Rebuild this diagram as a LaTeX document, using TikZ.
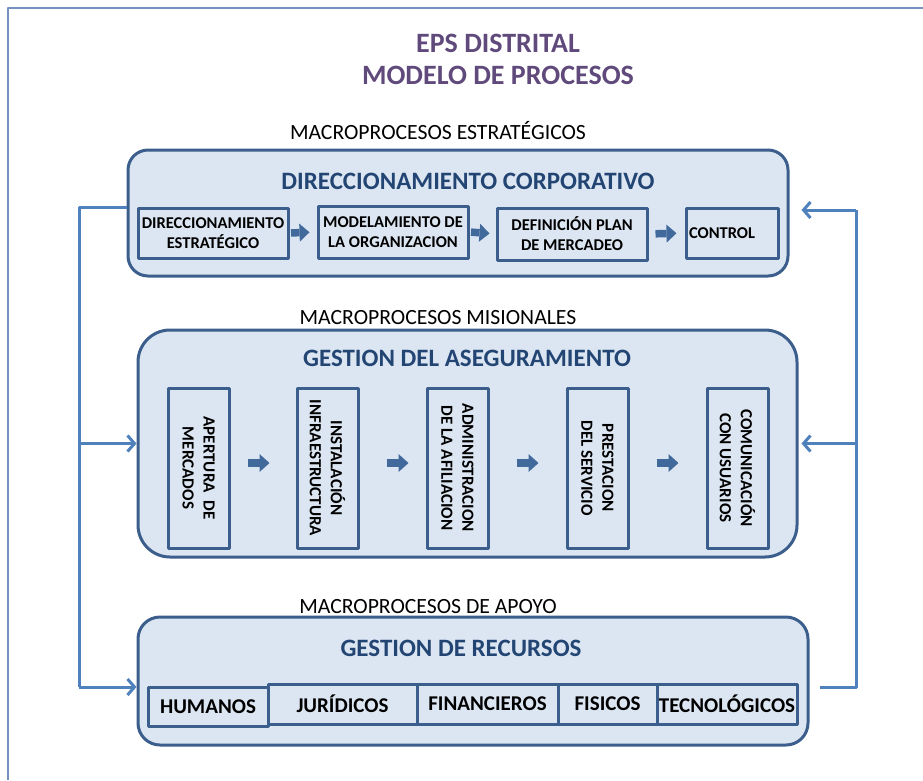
\documentclass[tikz,border=0pt]{standalone}
\usepackage{fontspec}
\setmainfont{Carlito}
\usepackage{tikz}
\usetikzlibrary{arrows.meta}
\usetikzlibrary{calc}
\definecolor{borde}{HTML}{3B5E8C}
\definecolor{relleno}{HTML}{DCE6F2}
\definecolor{azultit}{HTML}{234573}
\definecolor{morado}{HTML}{604A7B}
\definecolor{azul}{HTML}{4F81BD}
\definecolor{marco}{HTML}{7592BE}
\definecolor{azulflecha}{HTML}{41699C}

\begin{document}
\begin{tikzpicture}[line join=round,x=1pt,y=-1pt,
  bloque/.style={draw=borde,fill=relleno,line width=3pt},
  caja/.style={draw=borde,fill=relleno,line width=3pt,inner sep=0pt,align=center,font=\bfseries\fontsize{16.5}{20}\selectfont},
  vert/.style={caja,rotate=-90,minimum width=160pt,minimum height=61pt,font=\bfseries\fontsize{17}{21}\selectfont},
  recurso/.style={caja,minimum height=40pt,font=\bfseries\fontsize{21}{24}\selectfont},
  flecha/.style={draw=azulflecha,line width=7.5pt,-{Triangle[length=10pt,width=18pt,line width=0pt]}},
  enlace/.style={draw=azul,line width=3pt},
  punta/.style={enlace,-{Straight Barb[length=7pt,width=16pt]}},
  seccion/.style={font=\fontsize{21.7}{24}\selectfont},
  cabecera/.style={text=azultit,font=\bfseries\fontsize{25}{28}\selectfont}]
\useasboundingbox (0,0) rectangle (923,780);
\draw[marco,line width=2pt] (8,780) -- (8,8) -- (923,8);

\node[text=morado,align=center,font=\bfseries\fontsize{28}{32}\selectfont] (tit) at (498,59) {EPS DISTRITAL\\MODELO DE PROCESOS};

% estrategicos
\node[seccion] (sdc) at (438,131) {MACROPROCESOS ESTRATÉGICOS};
\node[bloque,rounded corners=20pt,minimum width=660pt,minimum height=126pt] (dc) at (458,213) {};
\node[cabecera] (tdc) at (468,181) {DIRECCIONAMIENTO CORPORATIVO};
\node[caja,minimum width=150pt,minimum height=50pt] (d1) at (213,233) {DIRECCIONAMIENTO\\ESTRATÉGICO};
\node[caja,minimum width=150pt,minimum height=52pt] (d2) at (393,232) {MODELAMIENTO DE\\LA ORGANIZACION};
\node[caja,minimum width=150pt,minimum height=52pt] (d3) at (572,234) {DEFINICIÓN PLAN\\DE MERCADEO};
\node[caja,minimum width=92pt,minimum height=50pt,text width=86pt,inner xsep=3pt,align=left] (d4) at (732,233) {\raisebox{-3pt}{CONTROL}};
\draw[flecha,shorten <=1.5pt,shorten >=7pt] (d1.east) -- (d2.west);
\draw[flecha,shorten <=1.5pt,shorten >=6pt] (d2.east) -- (d3.west);
\draw[flecha,shorten <=7pt,shorten >=8pt] (d3.east) -- (d4.west);

% misionales
\node[seccion] (sga) at (438,318) {MACROPROCESOS MISIONALES};
\node[bloque,rounded corners=32pt,minimum width=659pt,minimum height=227pt] (ga) at (467.5,443.5) {};
\node[cabecera] (tga) at (467,358) {GESTION DEL ASEGURAMIENTO};
\node[vert] (m1) at (198.5,468) {APERTURA~~DE\\MERCADOS};
\node[vert] (m2) at (327.5,468) {INSTALACIÓN\\INFRAESTRUCTURA};
\node[vert] (m3) at (457.5,468) {ADMINISTRACION\\DE LA AFILIACION};
\node[vert] (m4) at (597.5,468) {PRESTACION\\DEL SERVICIO};
\node[vert] (m5) at (737.5,468) {COMUNICACIÓN\\CON USUARIOS};
\draw[flecha,shorten <=17pt,shorten >=26pt] ([yshift=5pt]m1.north) -- ([yshift=5pt]m2.south);
\draw[flecha,shorten <=27pt,shorten >=17pt] ([yshift=5pt]m2.north) -- ([yshift=5pt]m3.south);
\draw[flecha,shorten <=27pt,shorten >=27pt] ([yshift=5pt]m3.north) -- ([yshift=5pt]m4.south);
\draw[flecha,shorten <=27pt,shorten >=27pt] ([yshift=5pt]m4.north) -- ([yshift=5pt]m5.south);

% apoyo
\node[seccion] (sgr) at (428,607) {MACROPROCESOS DE APOYO};
\node[bloque,rounded corners=22pt,minimum width=670pt,minimum height=128pt] (gr) at (473,681) {};
\node[cabecera] (tgr) at (461,648) {GESTION DE RECURSOS};
\node[recurso,minimum width=120pt,minimum height=39pt] (r1) at (208,706.5) {HUMANOS};
\node[recurso,minimum width=149pt] (r2) at (342.5,704) {JURÍDICOS};
\node[recurso,minimum width=141pt] (r3) at (487.5,704) {FINANCIEROS};
\node[recurso,minimum width=99pt] (r4) at (607.5,704) {FISICOS};
\node[recurso,minimum width=140pt] (r5) at (727,704) {TECNOLÓGICOS};

% realimentacion
\coordinate (ai) at (79,207);
\coordinate (bi) at (79,687);
\coordinate (ad) at (856,210);
\coordinate (bd) at (856,687);
\draw[enlace] (dc.west |- ai) -- (ai) -- (bi);
\draw[punta] (bi) -- (gr.west |- bi);
\draw[punta] (ai |- ga.west) -- (ga.west);
\draw[enlace] ($(gr.east |- bd)+(10,0)$) -- (bd) -- (ad);
\draw[punta] (ad) -- ($(dc.east |- ad)+(12,0)$);
\draw[punta] (ad |- ga.east) -- ($(ga.east)+(3,0)$);
\end{tikzpicture}
\end{document}
